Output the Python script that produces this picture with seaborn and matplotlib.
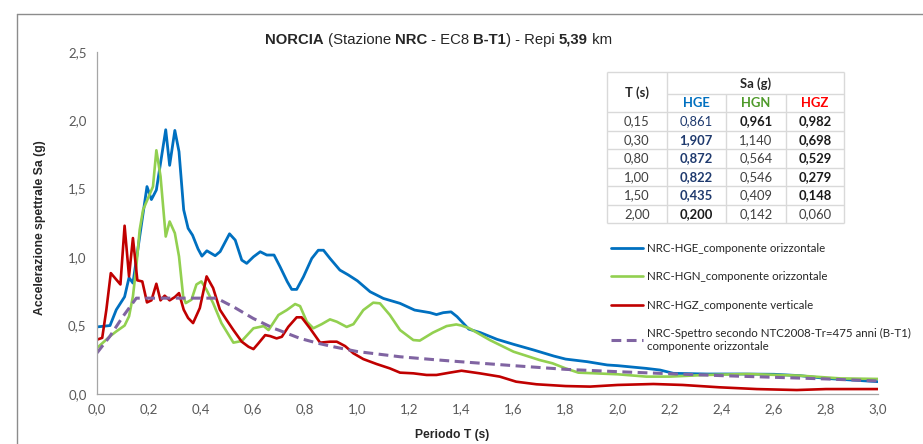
import matplotlib
matplotlib.use("Agg")
import matplotlib.pyplot as plt
import seaborn as sns
from matplotlib.lines import Line2D

# --- data ---
hge_t = [0.00, 0.05, 0.074, 0.106, 0.123, 0.138, 0.164, 0.192, 0.209, 0.228, 0.264, 0.279, 0.299, 0.315,
         0.333, 0.35, 0.367, 0.388, 0.403, 0.422, 0.454, 0.473, 0.509, 0.531, 0.556, 0.575, 0.601, 0.627,
         0.652, 0.68, 0.703, 0.731, 0.748, 0.767, 0.793, 0.825, 0.85, 0.87, 0.895, 0.933, 0.965, 1.0,
         1.049, 1.10, 1.164, 1.22, 1.279, 1.304, 1.33, 1.36, 1.383, 1.428, 1.473, 1.537, 1.60, 1.678,
         1.755, 1.80, 1.883, 1.96, 2.0, 2.11, 2.163, 2.214, 2.342, 2.47, 2.6, 2.70, 2.8, 3.0]
hge_sa = [0.49, 0.50, 0.615, 0.71, 0.85, 0.81, 1.15, 1.515, 1.42, 1.49, 1.93, 1.67, 1.925, 1.77,
          1.345, 1.21, 1.16, 1.06, 1.007, 1.046, 1.01, 1.04, 1.17, 1.124, 0.978, 0.954, 1.002, 1.039,
          1.015, 1.015, 0.93, 0.82, 0.764, 0.764, 0.856, 0.99, 1.05, 1.05, 0.99, 0.905, 0.87, 0.827,
          0.747, 0.698, 0.662, 0.613, 0.594, 0.58, 0.594, 0.60, 0.565, 0.474, 0.448, 0.399, 0.363, 0.321,
          0.277, 0.255, 0.236, 0.212, 0.207, 0.187, 0.175, 0.151, 0.146, 0.146, 0.144, 0.134, 0.114, 0.09]

hgn_t = [0.0, 0.049, 0.074, 0.106, 0.123, 0.138, 0.151, 0.164, 0.177, 0.196, 0.215, 0.228, 0.244, 0.264,
         0.279, 0.299, 0.315, 0.331, 0.341, 0.363, 0.382, 0.401, 0.421, 0.446, 0.478, 0.524, 0.556, 0.601,
         0.64, 0.659, 0.697, 0.729, 0.761, 0.78, 0.806, 0.831, 0.863, 0.895, 0.921, 0.959, 0.985, 1.023,
         1.061, 1.087, 1.125, 1.164, 1.215, 1.24, 1.29, 1.343, 1.38, 1.40, 1.43, 1.509, 1.60, 1.70, 1.75,
         1.80, 1.849, 2.0, 2.11, 2.2, 2.34, 2.5, 2.7, 2.855, 3.0]
hgn_sa = [0.336, 0.42, 0.457, 0.50, 0.567, 0.713, 0.93, 1.20, 1.345, 1.43, 1.515, 1.78, 1.59, 1.15,
          1.26, 1.175, 1.005, 0.713, 0.664, 0.689, 0.80, 0.822, 0.76, 0.664, 0.518, 0.375, 0.387, 0.48,
          0.496, 0.467, 0.577, 0.613, 0.657, 0.642, 0.528, 0.48, 0.51, 0.545, 0.528, 0.49, 0.51, 0.613,
          0.667, 0.662, 0.577, 0.467, 0.394, 0.39, 0.448, 0.496, 0.508, 0.50, 0.48, 0.394, 0.309, 0.248, 0.224,
          0.187, 0.156, 0.144, 0.127, 0.127, 0.139, 0.146, 0.134, 0.114, 0.11]

hgz_t = [0.0, 0.02, 0.036, 0.053, 0.09, 0.106, 0.123, 0.138, 0.155, 0.174, 0.192, 0.209, 0.228, 0.244,
         0.26, 0.279, 0.299, 0.315, 0.333, 0.35, 0.369, 0.395, 0.421, 0.446, 0.472, 0.497, 0.524, 0.556,
         0.582, 0.601, 0.62, 0.646, 0.665, 0.69, 0.71, 0.735, 0.767, 0.786, 0.818, 0.857, 0.895, 0.921,
         0.953, 0.985, 1.023, 1.074, 1.125, 1.164, 1.215, 1.266, 1.304, 1.355, 1.40, 1.47, 1.547, 1.61,
         1.688, 1.8, 1.894, 2.0, 2.137, 2.25, 2.39, 2.535, 2.688, 2.8, 3.0]
hgz_sa = [0.397, 0.41, 0.616, 0.883, 0.80, 1.229, 0.859, 1.139, 0.83, 0.822, 0.669, 0.684, 0.805, 0.684,
          0.718, 0.684, 0.708, 0.737, 0.616, 0.555, 0.518, 0.628, 0.859, 0.774, 0.616, 0.543, 0.467, 0.382,
          0.345, 0.328, 0.37, 0.43, 0.423, 0.406, 0.418, 0.491, 0.56, 0.56, 0.48, 0.375, 0.382, 0.382,
          0.35, 0.297, 0.255, 0.219, 0.187, 0.156, 0.151, 0.139, 0.139, 0.156, 0.17, 0.151, 0.127, 0.09,
          0.071, 0.058, 0.054, 0.066, 0.073, 0.066, 0.049, 0.036, 0.029, 0.036, 0.036]

ntc_t = [0.0, 0.049, 0.10, 0.151, 0.46, 0.50, 0.524, 0.60, 0.678, 0.70, 0.78, 0.85, 0.908, 1.0, 1.164,
         1.30, 1.394, 1.6, 1.8, 2.0, 2.2, 2.4, 2.6, 2.8, 3.0]
ntc_sa = [0.30, 0.42, 0.567, 0.70, 0.70, 0.66, 0.637, 0.552, 0.48, 0.465, 0.406, 0.37, 0.345, 0.31, 0.272,
          0.25, 0.236, 0.207, 0.18, 0.163, 0.148, 0.134, 0.122, 0.11, 0.095]

labels = ["NRC-HGE_componente orizzontale",
          "NRC-HGN_componente orizzontale",
          "NRC-HGZ_componente verticale",
          "NRC-Spettro secondo NTC2008-Tr=475 anni (B-T1)\ncomponente orizzontale"]

x_ticks = [0.0, 0.2, 0.4, 0.6, 0.8, 1.0, 1.2, 1.4, 1.6, 1.8, 2.0, 2.2, 2.4, 2.6, 2.8, 3.0]
x_ticklabels = ["0,0", "0,2", "0,4", "0,6", "0,8", "1,0", "1,2", "1,4", "1,6", "1,8",
                "2,0", "2,2", "2,4", "2,6", "2,8", "3,0"]
y_ticks = [0.0, 0.5, 1.0, 1.5, 2.0, 2.5]
y_ticklabels = ["0,0", "0,5", "1,0", "1,5", "2,0", "2,5"]

# table in the upper right
tab_T = ["0,15", "0,30", "0,80", "1,00", "1,50", "2,00"]
tab_hge = ["0,861", "1,907", "0,872", "0,822", "0,435", "0,200"]
tab_hgn = ["0,961", "1,140", "0,564", "0,546", "0,409", "0,142"]
tab_hgz = ["0,982", "0,698", "0,529", "0,279", "0,148", "0,060"]

# --- style ---
sns.set_style("white")
plt.rcParams["font.family"] = ["Lato", "DejaVu Sans"]

C_HGE = "#0070c0"
C_HGN = "#92d050"
C_HGZ = "#c00000"
C_NTC = "#8064a2"
AXIS_GRAY = "#a6a6a6"

fig = plt.figure(figsize=(9.23, 4.44), dpi=100)
W, H = 923, 444
ax = fig.add_axes([97 / W, 50 / H, 781 / W, 342.3 / H])

sns.lineplot(x=hge_t, y=hge_sa, ax=ax, color=C_HGE, lw=2.0, estimator=None, sort=False)
sns.lineplot(x=hgn_t, y=hgn_sa, ax=ax, color=C_HGN, lw=1.9, estimator=None, sort=False)
sns.lineplot(x=hgz_t, y=hgz_sa, ax=ax, color=C_HGZ, lw=1.9, estimator=None, sort=False)
sns.lineplot(x=ntc_t, y=ntc_sa, ax=ax, color=C_NTC, lw=2.2, estimator=None, sort=False)
lines = ax.get_lines()
lines[3].set_dashes((3.2, 1.8))

ax.set_xlim(0, 3.0)
ax.set_ylim(0, 2.5)
ax.set_xticks(x_ticks)
ax.set_xticklabels(x_ticklabels)
ax.set_yticks(y_ticks)
ax.set_yticklabels(y_ticklabels)
ax.tick_params(axis="both", direction="out", length=3.5, width=0.8, color=AXIS_GRAY,
               labelsize=9.5, labelcolor="#595959", pad=3)
ax.tick_params(axis="y", pad=4)
for s in ["top", "right"]:
    ax.spines[s].set_visible(False)
for s in ["left", "bottom"]:
    ax.spines[s].set_color(AXIS_GRAY)
    ax.spines[s].set_linewidth(0.9)
ax.set_xlabel("")
ax.set_ylabel("")

lab_font = ["Liberation Sans", "DejaVu Sans"]
fig.text(452 / W, 1 - 435 / H, "Periodo T (s)", ha="center", va="center",
         fontsize=8.7, fontweight="bold", family=lab_font)
fig.text(40 / W, 1 - 228 / H, "Accelerazione spettrale Sa (g)", ha="center", va="center",
         rotation=90, fontsize=8.8, fontweight="bold", family=lab_font)

# title with mixed bold pieces, all on one baseline
title_parts = [("NORCIA", "bold"), (" (Stazione ", "normal"), ("NRC", "bold"), (" - EC8 ", "normal"),
               ("B-T1", "bold"), (") - Repi ", "normal"), ("5,39", "bold"), (" km", "normal")]
renderer = fig.canvas.get_renderer()
x_px = 265.0
for txt, wt in title_parts:
    t = fig.text(x_px / W, 1 - 44 / H, txt, fontsize=10.7, fontweight=wt, family=lab_font,
                 va="baseline", ha="left")
    x_px += t.get_window_extent(renderer).width

# legend
ax.legend(lines, labels, loc="upper left", bbox_to_anchor=(611 / W, 1 - 243 / H),
          bbox_transform=fig.transFigure, frameon=False, fontsize=8.3, handlelength=2.8,
          handletextpad=0.35, labelspacing=1.5, borderpad=0, borderaxespad=0)

# table
x0, x1, y_top, y_bot = 606.7, 844.3, 72.3, 223.3
tab = fig.add_axes([x0 / W, 1 - y_bot / H, (x1 - x0) / W, (y_bot - y_top) / H])
tab.set_xlim(0, x1 - x0)
tab.set_ylim(y_bot - y_top, 0)
tab.axis("off")
col_b = [0, 60, 119.3, 179, 237.6]
row_b = [0, 21.7, 40, 58.5, 77, 95.5, 114, 132.5, 151]
GRID = "#d9d9d9"
for yb in row_b:
    if yb == 21.7:
        tab.hlines(yb, col_b[1], col_b[4], color=GRID, lw=1, clip_on=False)
    else:
        tab.hlines(yb, col_b[0], col_b[4], color=GRID, lw=1, clip_on=False)
for i, xb in enumerate(col_b):
    if i in (2, 3):
        tab.vlines(xb, row_b[1], row_b[-1], color=GRID, lw=1, clip_on=False)
    else:
        tab.vlines(xb, row_b[0], row_b[-1], color=GRID, lw=1, clip_on=False)

cx = [(col_b[i] + col_b[i + 1]) / 2 for i in range(4)]
TFS = 9.4
tab.text(cx[0], 20, "T (s)", ha="center", va="center", fontsize=TFS, fontweight="bold", color="#262626")
tab.text((col_b[1] + col_b[4]) / 2, 11, "Sa (g)", ha="center", va="center", fontsize=TFS,
         fontweight="bold", color="#262626")
for c, name, col in zip(cx[1:], ["HGE", "HGN", "HGZ"], ["#0070c0", "#4e9a2a", "#ff0000"]):
    tab.text(c, 31, name, ha="center", va="center", fontsize=TFS, fontweight="bold", color=col)

NAVY = "#1f3a6e"
hge_bold = [False, True, True, True, True, True]
hge_col = [NAVY, NAVY, NAVY, NAVY, NAVY, "#1a1a1a"]
hgn_bold = [True, False, False, False, False, False]
hgz_bold = [True, True, True, True, True, False]
for i in range(6):
    yc = (row_b[i + 2] + row_b[i + 3]) / 2
    tab.text(cx[0], yc, tab_T[i], ha="center", va="center", fontsize=TFS, color="#404040")
    tab.text(cx[1], yc, tab_hge[i], ha="center", va="center", fontsize=TFS, color=hge_col[i],
             fontweight="bold" if hge_bold[i] else "normal")
    tab.text(cx[2], yc, tab_hgn[i], ha="center", va="center", fontsize=TFS,
             color="#1a1a1a" if hgn_bold[i] else "#404040",
             fontweight="bold" if hgn_bold[i] else "normal")
    tab.text(cx[3], yc, tab_hgz[i], ha="center", va="center", fontsize=TFS,
             color="#1a1a1a" if hgz_bold[i] else "#404040",
             fontweight="bold" if hgz_bold[i] else "normal")

# outer chart border (left and top edge visible in the reference)
fy = 1 - 14 / H
fx = 16.5 / W
fig.add_artist(Line2D([fx, fx], [0, fy], transform=fig.transFigure, color="#8c8c8c", lw=1))
fig.add_artist(Line2D([fx, 1], [fy, fy], transform=fig.transFigure, color="#8c8c8c", lw=1))

fig.savefig("out.png", dpi=100)
